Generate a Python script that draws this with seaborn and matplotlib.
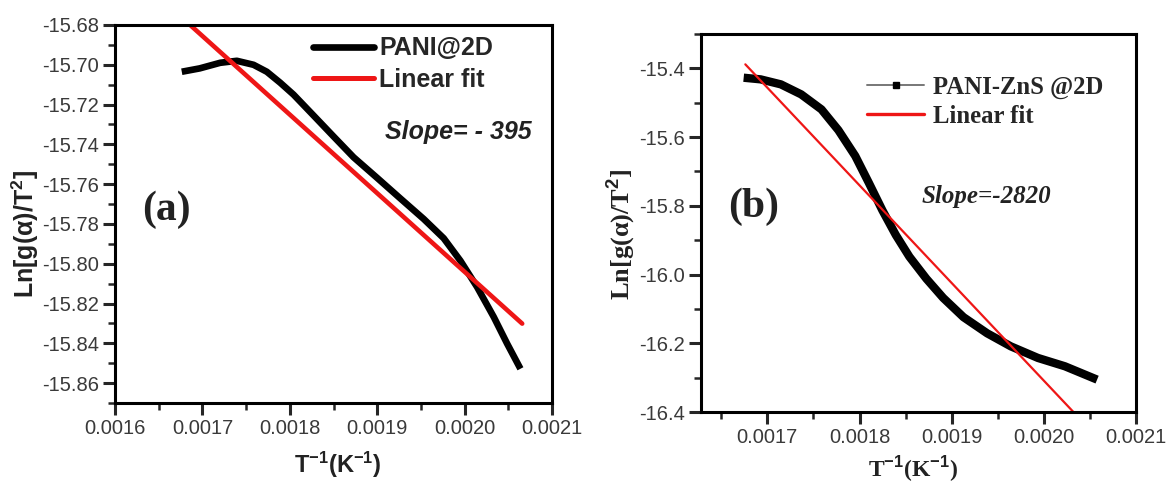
import numpy as np
import pandas as pd
import matplotlib
matplotlib.use("Agg")
import matplotlib.pyplot as plt
from matplotlib.lines import Line2D
from matplotlib.ticker import MultipleLocator, FormatStrFormatter
import seaborn as sns

# ---- data ----
a_x = [0.0016764, 0.0016970, 0.0017203, 0.0017394, 0.0017585, 0.0017737, 0.0017890,
       0.0018043, 0.0018272, 0.0018500, 0.0018730, 0.0018998, 0.0019265, 0.0019532,
       0.0019761, 0.0019952, 0.0020143, 0.0020334, 0.0020487, 0.0020639]
a_y = [-15.7035, -15.7018, -15.6990, -15.6980, -15.7000, -15.7035, -15.7090,
       -15.7150, -15.7255, -15.7360, -15.7465, -15.7568, -15.7672, -15.7775,
       -15.7872, -15.7985, -15.8117, -15.8268, -15.8402, -15.8528]
a_fit_x = [0.0016860, 0.0020659]
a_fit_y = [-15.6800, -15.8301]

b_x = [0.0016743, 0.0016927, 0.0017147, 0.0017367, 0.0017587, 0.0017771, 0.0017954,
       0.0018101, 0.0018248, 0.0018394, 0.0018541, 0.0018725, 0.0018908, 0.0019128,
       0.0019385, 0.0019642, 0.0019936, 0.0020229, 0.0020578]
b_y = [-15.4272, -15.4320, -15.4466, -15.4757, -15.5194, -15.5800, -15.6550,
       -15.7330, -15.8130, -15.8850, -15.9480, -16.0120, -16.0680, -16.1240,
       -16.1710, -16.2090, -16.2427, -16.2670, -16.3058]
b_fit_x = [0.0016761, 0.0020321]
b_fit_y = [-15.3883, -16.4000]

a_xticks = [0.0016, 0.0017, 0.0018, 0.0019, 0.0020, 0.0021]
a_yticks = [-15.86, -15.84, -15.82, -15.80, -15.78, -15.76, -15.74, -15.72, -15.70, -15.68]
b_xticks = [0.0017, 0.0018, 0.0019, 0.0020, 0.0021]
b_yticks = [-16.4, -16.2, -16.0, -15.8, -15.6, -15.4]

sns.set_style("ticks")
plt.rcParams['font.family'] = ['Liberation Sans', 'DejaVu Sans']
plt.rcParams['mathtext.fontset'] = 'custom'
plt.rcParams['mathtext.rm'] = 'Liberation Sans'
plt.rcParams['mathtext.bf'] = 'Liberation Sans:bold'
plt.rcParams['mathtext.it'] = 'Liberation Sans:italic'

W, H = 1169, 487
fig = plt.figure(figsize=(W / 100, H / 100), dpi=100)

def px_axes(l, t, r, b):
    return fig.add_axes([l / W, 1 - b / H, (r - l) / W, (b - t) / H])

axA = px_axes(115, 25, 552, 403)
axB = px_axes(701, 34, 1136, 412)

RED = "#ee1616"
dfa = pd.DataFrame({"x": a_x, "y": a_y})
dfa_fit = pd.DataFrame({"x": a_fit_x, "y": a_fit_y})
dfb = pd.DataFrame({"x": b_x, "y": b_y})
dfb_fit = pd.DataFrame({"x": b_fit_x, "y": b_fit_y})

sns.lineplot(data=dfa, x="x", y="y", ax=axA, color="black", lw=4.8, sort=False,
             solid_joinstyle="round", solid_capstyle="butt")
sns.lineplot(data=dfa_fit, x="x", y="y", ax=axA, color=RED, lw=3.3, sort=False)
sns.lineplot(data=dfb, x="x", y="y", ax=axB, color="black", lw=6, sort=False,
             solid_joinstyle="round", solid_capstyle="butt")
sns.lineplot(data=dfb_fit, x="x", y="y", ax=axB, color=RED, lw=1.6, sort=False)

tick_col = "#3a3a3a"
for ax in (axA, axB):
    for s in ax.spines.values():
        s.set_linewidth(2.2)
        s.set_color("black")
    ax.tick_params(which="major", direction="out", length=8.5, width=2.2,
                   labelsize=14.5, labelcolor=tick_col, top=False, right=False, pad=3)
    ax.tick_params(which="minor", direction="out", length=5, width=1.8,
                   top=False, right=False)

# panel (a)
axA.set_xlim(0.0016, 0.0021)
axA.set_ylim(-15.87, -15.68)
axA.set_xticks(a_xticks)
axA.xaxis.set_major_formatter(FormatStrFormatter("%.4f"))
axA.xaxis.set_minor_locator(MultipleLocator(0.00005))
axA.set_yticks(a_yticks)
axA.yaxis.set_major_formatter(FormatStrFormatter("%.2f"))
axA.yaxis.set_minor_locator(MultipleLocator(0.01))
axA.set_xlabel(r"T$^{\mathbf{-1}}$(K$^{\mathbf{-1}}$)", fontsize=17, fontweight="bold",
               color="#222222")
axA.xaxis.set_label_coords(0.51, -0.125)
axA.set_ylabel(r"Ln[g(α)/T$^{\mathbf{2}}$]", fontsize=18, fontweight="bold",
               color="#222222", va="center")
axA.yaxis.set_label_coords(-0.206, 0.447)
axA.text(0.062, 0.511, "(a)", transform=axA.transAxes, fontsize=30, fontweight="bold",
         family="Liberation Serif", va="center", ha="left", color="#222222")
axA.text(0.618, 0.717, "Slope= - 395", transform=axA.transAxes, fontsize=18,
         fontweight="bold", style="italic", color="#222222", va="center", ha="left")
hA = [Line2D([], [], color="black", lw=4.8), Line2D([], [], color=RED, lw=3.6)]
axA.legend(hA, ["PANI@2D", "Linear fit"], loc="upper left", bbox_to_anchor=(0.453, 0.97),
           frameon=False, prop={"weight": "bold", "size": 18}, handlelength=2.45,
           handletextpad=0.2, labelspacing=0.3, borderaxespad=0, borderpad=0)

# panel (b)
axB.set_xlim(0.001628, 0.0021)
axB.set_ylim(-16.4, -15.3)
axB.set_xticks(b_xticks)
axB.xaxis.set_major_formatter(FormatStrFormatter("%.4f"))
axB.xaxis.set_minor_locator(MultipleLocator(0.00005))
axB.set_yticks(b_yticks)
axB.yaxis.set_major_formatter(FormatStrFormatter("%.1f"))
axB.yaxis.set_minor_locator(MultipleLocator(0.1))
axB.set_xlabel(r"T$^{\mathbf{-1}}$(K$^{\mathbf{-1}}$)", fontsize=17, fontweight="bold",
               family="Liberation Serif", color="#222222")
axB.xaxis.set_label_coords(0.487, -0.112)
axB.set_ylabel(r"Ln[g(α)/T$^{\mathbf{2}}$]", fontsize=19, fontweight="bold",
               family="Liberation Serif", color="#222222", va="center")
axB.yaxis.set_label_coords(-0.182, 0.471)
axB.text(0.062, 0.542, "(b)", transform=axB.transAxes, fontsize=30, fontweight="bold",
         family="Liberation Serif", va="center", ha="left", color="#222222")
axB.text(0.508, 0.569, "Slope=-2820", transform=axB.transAxes, fontsize=18,
         fontweight="bold", style="italic", family="Liberation Serif",
         color="#222222", va="center", ha="left")
hB = [Line2D([], [], color="#777777", lw=1.4, marker="s", markersize=4.5,
             markerfacecolor="black", markeredgecolor="black"),
      Line2D([], [], color=RED, lw=2.4)]
axB.legend(hB, ["PANI-ZnS @2D", "Linear fit"], loc="upper left",
           bbox_to_anchor=(0.382, 0.889), frameon=False,
           prop={"weight": "bold", "size": 17.8, "family": "Liberation Serif"},
           handlelength=2.3, handletextpad=0.36, labelspacing=0.22,
           borderaxespad=0, borderpad=0)

fig.savefig("out.png", dpi=100, facecolor="white")
